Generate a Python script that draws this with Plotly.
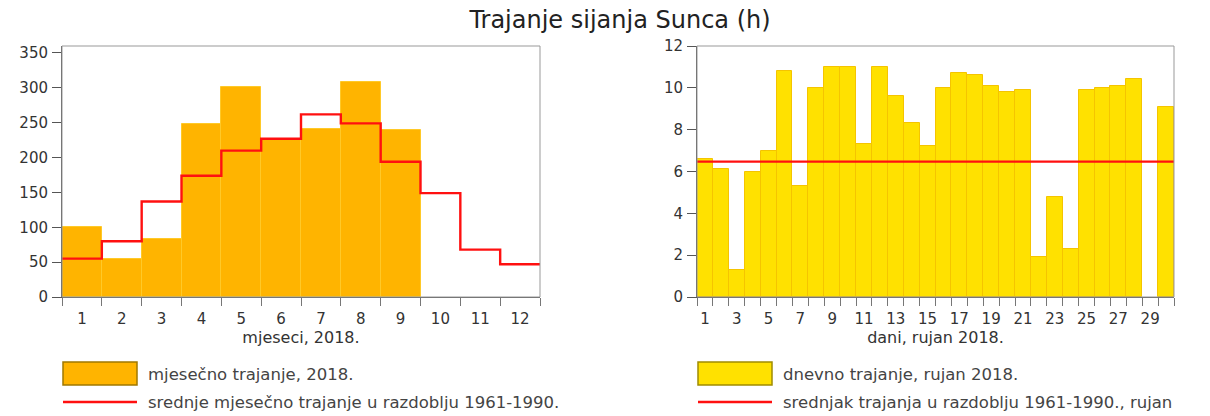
import plotly.graph_objects as go

# ---- data ----
months = list(range(1, 13))
monthly_2018 = [101, 55, 83, 248, 301, 226, 241, 309, 239, None, None, None]
monthly_mean_1961_1990 = [55, 80, 137, 174, 210, 227, 262, 249, 194, 149, 68, 47]

days = list(range(1, 31))
daily_sep_2018 = [6.6, 6.1, 1.3, 6.0, 7.0, 10.8, 5.3, 10.0, 11.0, 11.0,
                  7.3, 11.0, 9.6, 8.3, 7.2, 10.0, 10.7, 10.6, 10.1, 9.8,
                  9.9, 1.9, 4.8, 2.3, 9.9, 10.0, 10.1, 10.4, 0.0, 9.1]
sep_mean_1961_1990 = 6.47

left_yticks = [0, 50, 100, 150, 200, 250, 300, 350]
right_yticks = [0, 2, 4, 6, 8, 10, 12]
right_xticks = list(range(1, 31, 2))

title_text = "Trajanje sijanja Sunca (h)"
left_xtitle = "mjeseci, 2018."
right_xtitle = "dani, rujan 2018."
legend_left = ["mjesečno trajanje, 2018.", "srednje mjesečno trajanje u razdoblju 1961-1990."]
legend_right = ["dnevno trajanje, rujan 2018.", "srednjak trajanja u razdoblju 1961-1990., rujan"]

# ---- styles ----
FONT = "DejaVu Sans"
ORANGE = "#FFB400"
ORANGE_EDGE = "#FFC928"
YELLOW = "#FFE100"
YELLOW_EDGE = "#F5C400"
RED = "#FF1010"
TXT = "#333333"

W, H = 1210, 416
def px(x):
    return x / W
def py(y):
    return 1 - y / H

fig = go.Figure()

# left bars
fig.add_trace(go.Bar(x=months, y=monthly_2018, width=1.0,
                     marker=dict(color=ORANGE, line=dict(color=ORANGE_EDGE, width=1)),
                     xaxis="x", yaxis="y", showlegend=False))
# left step line (from bin edges)
edges = [m - 0.5 for m in months] + [months[-1] + 0.5]
vals = monthly_mean_1961_1990 + [monthly_mean_1961_1990[-1]]
fig.add_trace(go.Scatter(x=edges, y=vals, mode="lines", line=dict(color=RED, width=2.4, shape="hv"),
                         xaxis="x", yaxis="y", showlegend=False))

# right bars
fig.add_trace(go.Bar(x=days, y=daily_sep_2018, width=1.0,
                     marker=dict(color=YELLOW,
                                 line=dict(color=YELLOW_EDGE,
                                           width=[1 if v > 0 else 0 for v in daily_sep_2018])),
                     xaxis="x2", yaxis="y2", showlegend=False))
fig.add_trace(go.Scatter(x=[days[0] - 0.5, days[-1] + 0.5], y=[sep_mean_1961_1990] * 2,
                         mode="lines", line=dict(color=RED, width=2.4),
                         xaxis="x2", yaxis="y2", showlegend=False))

yd = [py(297), py(46)]
common_x = dict(showgrid=False, zeroline=False, showline=True, linecolor="#555", linewidth=1,
                ticks="", tickfont=dict(family=FONT, size=15, color=TXT), automargin=False,
                ticklabelstandoff=8,
                minor=dict(ticks="outside", tick0=0.5, dtick=1, ticklen=8, tickcolor="#777", tickwidth=1),
                fixedrange=True)
common_y = dict(showgrid=False, zeroline=False, showline=True, linecolor="#555", linewidth=1,
                ticks="outside", ticklen=9, tickcolor="#555", tickwidth=1, automargin=False,
                ticklabelstandoff=1,
                tickfont=dict(family=FONT, size=15, color=TXT), fixedrange=True)

fig.update_layout(
    width=W, height=H, margin=dict(l=0, r=0, t=0, b=0, pad=0, autoexpand=False),
    paper_bgcolor="white", plot_bgcolor="white",
    bargap=0, showlegend=False,
    xaxis=dict(domain=[px(62), px(540)], range=[0.5, 12.5], tickmode="array", tickvals=months,
               ticktext=[str(m) for m in months], anchor="y",
               title=dict(text=left_xtitle, font=dict(family=FONT, size=16, color=TXT), standoff=4),
               **common_x),
    yaxis=dict(domain=yd, range=[0, 360], tickmode="array", tickvals=left_yticks, anchor="x", **common_y),
    xaxis2=dict(domain=[px(697), px(1174)], range=[0.5, 30.5], tickmode="array", tickvals=right_xticks,
                ticktext=[str(d) for d in right_xticks], anchor="y2",
                title=dict(text=right_xtitle, font=dict(family=FONT, size=16, color=TXT), standoff=4),
                **common_x),
    yaxis2=dict(domain=yd, range=[0, 12], tickmode="array", tickvals=right_yticks, anchor="x2", **common_y),
    title=dict(text=title_text, x=px(620), xanchor="center", y=py(20), yanchor="middle", automargin=False,
               font=dict(family=FONT, size=24, color="#222")),
)

shapes = []
# plot frames (top/right borders)
for xr, yr in (("x domain", "y domain"), ("x2 domain", "y2 domain")):
    shapes.append(dict(type="rect", xref=xr, yref=yr, x0=0, x1=1, y0=0, y1=1,
                       line=dict(color="#999", width=1), layer="above"))

annotations = []
def legend_block(x0, texts, fill, edge):
    shapes.append(dict(type="rect", xref="paper", yref="paper",
                       x0=px(x0), x1=px(x0 + 74), y0=py(385), y1=py(362),
                       fillcolor=fill, line=dict(color=edge, width=1.5)))
    shapes.append(dict(type="line", xref="paper", yref="paper",
                       x0=px(x0), x1=px(x0 + 74), y0=py(402), y1=py(402),
                       line=dict(color=RED, width=2.5)))
    for t, yy in zip(texts, (374, 402)):
        annotations.append(dict(text=t, xref="paper", yref="paper", x=px(x0 + 83), y=py(yy),
                                xanchor="left", yanchor="middle", showarrow=False,
                                font=dict(family=FONT, size=16.5, color="#444")))

legend_block(63, legend_left, ORANGE, "#A07800")
legend_block(698, legend_right, YELLOW, "#A08C00")

fig.update_layout(shapes=shapes, annotations=annotations)
fig.write_html("out.html", config={"displayModeBar": False},
               post_script="document.body.style.margin='0';document.documentElement.style.margin='0';")
